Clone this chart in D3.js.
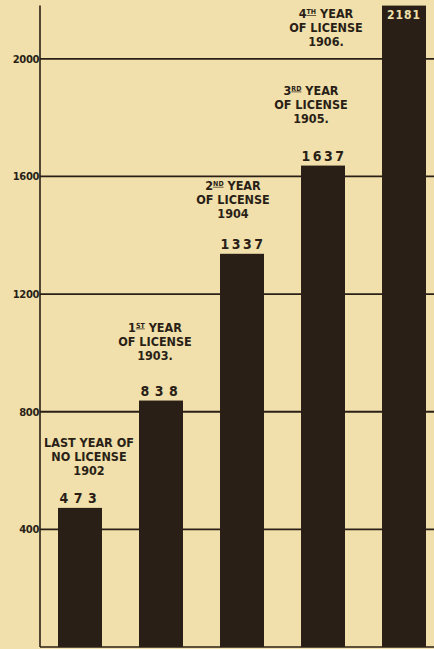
<!DOCTYPE html>
<html>
<head>
<meta charset="utf-8">
<script src="https://cdn.jsdelivr.net/npm/d3@7"></script>
<style>
  html, body { margin: 0; padding: 0; background: #f1e0ab; }
  svg { display: block; }
</style>
</head>
<body>
<div id="chart"></div>
<script>
// ---- data ----
const categories = ["1902", "1903", "1904", "1905", "1906"];
const values = [473, 838, 1337, 1637, 2181];
const tickValues = [400, 800, 1200, 1600, 2000];
// "^XX" marks a superscript ordinal suffix
const labelLines = [
  ["LAST YEAR OF", "NO LICENSE", "1902"],
  ["1^ST YEAR", "OF LICENSE", "1903."],
  ["2^ND YEAR", "OF LICENSE", "1904"],
  ["3^RD YEAR", "OF LICENSE", "1905."],
  ["4^TH YEAR", "OF LICENSE", "1906."]
];

// ---- layout ----
const W = 434, H = 649;
const bg = "#f1e0ab", ink = "#2a1f17";
const svg = d3.select("#chart").append("svg").attr("width", W).attr("height", H);
svg.append("rect").attr("width", W).attr("height", H).attr("fill", bg);

const y = d3.scaleLinear().domain([0, 2200]).range([647, 0]);
const x = d3.scaleBand().domain(categories).range([58, 426]).paddingInner(0.457).paddingOuter(0);
const axisX = 40;

// gridlines
svg.append("g").selectAll("line").data([0, ...tickValues]).join("line")
  .attr("x1", axisX).attr("x2", W)
  .attr("y1", d => y(d)).attr("y2", d => y(d))
  .attr("stroke", ink).attr("stroke-width", d => d === 0 ? 1.5 : 1.8);

// axis
const axis = d3.axisLeft(y).tickValues(tickValues).tickFormat(d3.format("d")).tickSize(0).tickPadding(1);
const ag = svg.append("g").attr("transform", `translate(${axisX},0)`).call(axis);
ag.select(".domain").remove();
ag.selectAll("text").attr("fill", ink).attr("font-family", "DejaVu Sans, sans-serif")
  .attr("font-size", 10).attr("font-weight", "bold").attr("dy", "0.35em").attr("letter-spacing", -0.4);
svg.append("line").attr("x1", axisX).attr("x2", axisX)
  .attr("y1", y(0)).attr("y2", y(d3.max(values)))
  .attr("stroke", ink).attr("stroke-width", 1.6);

// bars
svg.append("g").selectAll("rect").data(values).join("rect")
  .attr("x", (d, i) => x(categories[i]))
  .attr("y", d => y(d))
  .attr("width", x.bandwidth())
  .attr("height", d => y(0) - y(d))
  .attr("fill", ink);

// value labels
const font = "DejaVu Sans Condensed, DejaVu Sans, sans-serif";
svg.append("g").selectAll("text").data(values).join("text")
  .attr("x", (d, i) => x(categories[i]) + x.bandwidth() / 2 + (i === 4 ? 0 : 1))
  .attr("y", (d, i) => i === 4 ? y(d) + 13 : y(d) - 5)
  .attr("text-anchor", "middle")
  .attr("font-family", font).attr("font-weight", "bold")
  .attr("font-size", (d, i) => i === 4 ? 12 : 14)
  .attr("letter-spacing", (d, i) => i === 4 ? 1 : (d < 1000 ? 5.5 : 2.5))
  .attr("fill", (d, i) => i === 4 ? bg : ink)
  .text(d => d);

// annotation blocks: centre x offset from bar centre and baseline of last line relative to bar top
const annot = [
  { dx: 9, by: -33 },
  { dx: -6, by: -41 },
  { dx: -9, by: -36 },
  { dx: -12, by: -43 },
  { dx: -78, absY: 46 }
];
const lineH = 14;
labelLines.forEach((lines, i) => {
  const cx = x(categories[i]) + x.bandwidth() / 2 + annot[i].dx;
  const lastY = annot[i].absY !== undefined ? annot[i].absY : y(values[i]) + annot[i].by;
  const g = svg.append("g");
  lines.forEach((ln, j) => {
    const t = g.append("text")
      .attr("x", cx).attr("y", lastY - (lines.length - 1 - j) * lineH)
      .attr("text-anchor", "middle")
      .attr("font-family", font).attr("font-weight", "bold")
      .attr("font-size", 12.5).attr("fill", ink);
    const m = ln.match(/^(\d)\^([A-Z]{2})(.*)$/);
    if (m) {
      t.append("tspan").text(m[1]);
      t.append("tspan").attr("font-size", 7).attr("dy", -4).attr("text-decoration", "underline").text(m[2]);
      t.append("tspan").attr("dy", 4).text(m[3]);
    } else {
      t.text(ln);
    }
  });
});
</script>
</body>
</html>
